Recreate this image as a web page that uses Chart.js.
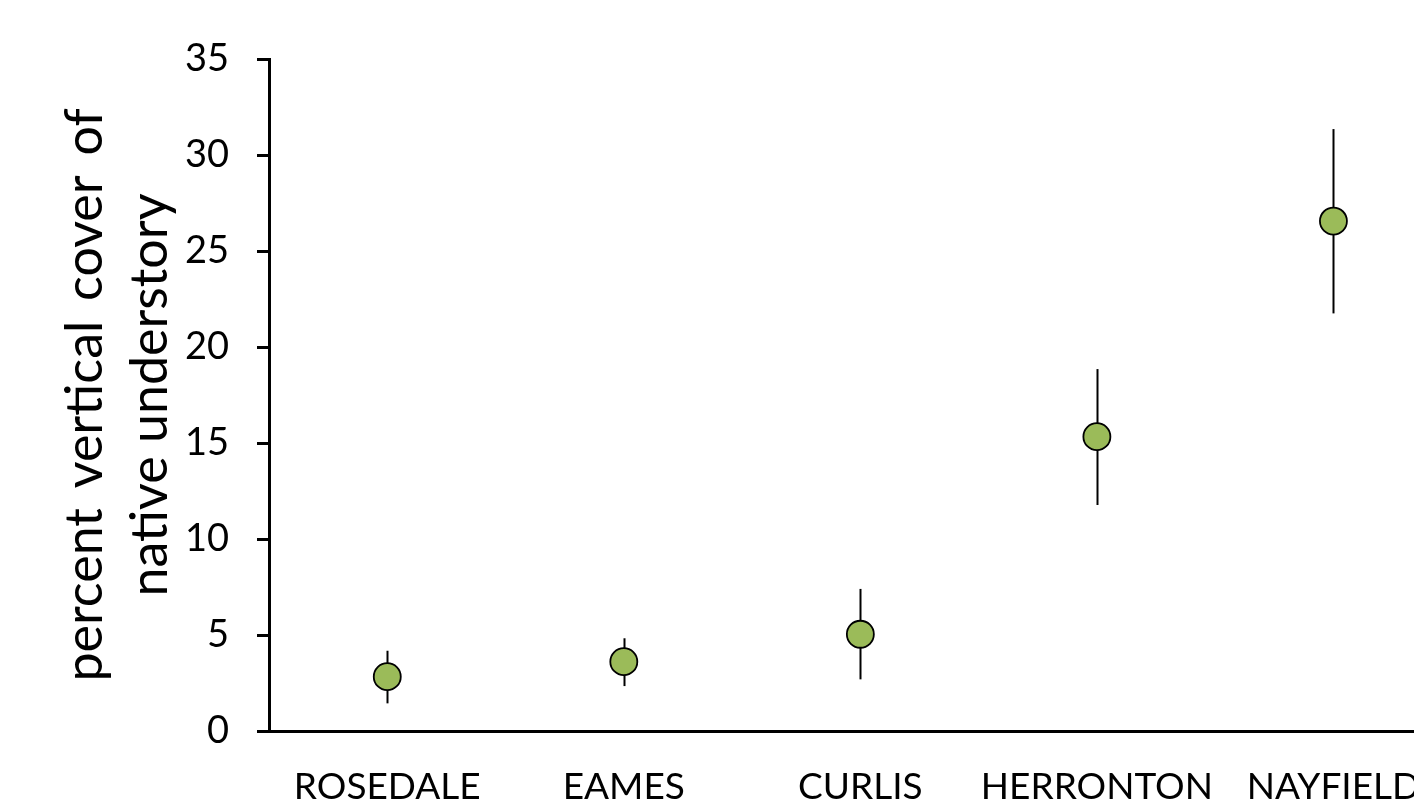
<!DOCTYPE html>
<html>
<head>
<meta charset="utf-8">
<script src="https://cdn.jsdelivr.net/npm/chart.js@4.4.1/dist/chart.umd.min.js"></script>
<style>
  html, body { margin: 0; padding: 0; background: #fff; overflow: hidden; }
  #frame { width: 1414px; height: 801px; overflow: hidden; position: relative; background: #fff; }
  #wrap { width: 1467px; height: 801px; }
</style>
</head>
<body>
<div id="frame"><div id="wrap"><canvas id="c" width="1467" height="801"></canvas></div></div>
<script>
// Sites and mean percent cover with upper/lower error limits
const sites = ['ROSEDALE', 'EAMES', 'CURLIS', 'HERRONTON', 'NAYFIELD'];
const meanCover = [2.83, 3.61, 5.04, 15.33, 26.56];
const upperCover = [4.18, 4.83, 7.40, 18.85, 31.35];
const lowerCover = [1.44, 2.34, 2.69, 11.77, 21.75];
const yTicks = [0, 5, 10, 15, 20, 25, 30, 35];
const yTitle = ['percent \u2009vertical \u2009cover \u2009of', 'native understory'];

const FONT = 'Lato, "Open Sans", sans-serif';

// Vertical error lines drawn beneath the markers
const errorBars = {
  id: 'errorBars',
  beforeDatasetsDraw(chart) {
    const { ctx, scales: { x, y } } = chart;
    ctx.save();
    ctx.strokeStyle = '#000';
    ctx.lineWidth = 2;
    sites.forEach((s, i) => {
      const px = Math.round(x.getPixelForValue(i)) + 0.5;
      ctx.beginPath();
      ctx.moveTo(px, y.getPixelForValue(upperCover[i]));
      ctx.lineTo(px, y.getPixelForValue(lowerCover[i]));
      ctx.stroke();
    });
    ctx.restore();
  }
};

new Chart(document.getElementById('c'), {
  type: 'line',
  data: {
    labels: sites,
    datasets: [{
      data: meanCover,
      showLine: false,
      pointRadius: 13.5,
      pointHoverRadius: 13.5,
      pointBackgroundColor: '#9BBB59',
      pointBorderColor: '#000',
      pointBorderWidth: 1.8
    }]
  },
  options: {
    responsive: false,
    animation: false,
    devicePixelRatio: 1,
    layout: { padding: { top: 59, left: 0, right: 0, bottom: 0 } },
    plugins: { legend: { display: false }, tooltip: { enabled: false } },
    scales: {
      x: {
        type: 'category',
        offset: true,
        grid: { display: false, drawTicks: false },
        border: { display: true, color: '#000', width: 3 },
        ticks: {
          color: '#000',
          padding: 34,
          maxRotation: 0,
          autoSkip: false,
          font: { family: FONT, size: 37 }
        },
        afterFit(scale) { scale.height = 70; }
      },
      y: {
        min: 0,
        max: 35,
        afterBuildTicks(scale) { scale.ticks = yTicks.map(v => ({ value: v })); },
        grid: {
          display: true,
          drawOnChartArea: false,
          drawTicks: true,
          tickLength: 12,
          color: '#000',
          lineWidth: 3
        },
        border: { display: true, color: '#000', width: 3 },
        ticks: {
          color: '#000',
          padding: 28,
          font: { family: FONT, size: 38 }
        },
        title: {
          display: true,
          text: yTitle,
          color: '#000',
          padding: { top: 53, bottom: 0 },
          font: { family: FONT, size: 52, lineHeight: 1.25 }
        },
        afterFit(scale) { scale.width = 269; }
      }
    }
  },
  plugins: [errorBars]
});
</script>
</body>
</html>
